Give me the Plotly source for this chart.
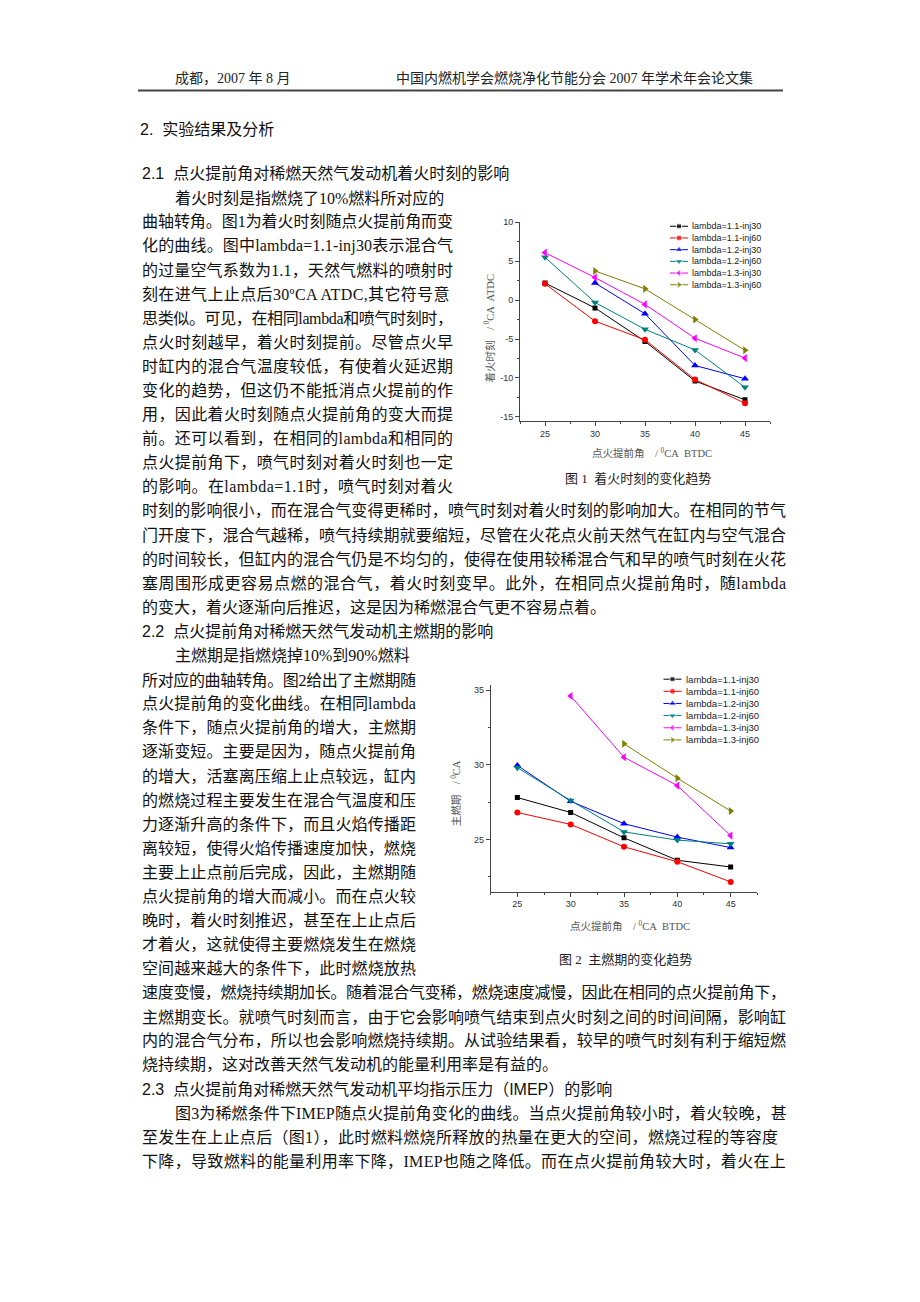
import plotly.graph_objects as go

# ---------------- data ----------------
ADVANCE = [25, 30, 35, 40, 45]
SERIES = ["lambda=1.1-inj30", "lambda=1.1-inj60", "lambda=1.2-inj30",
          "lambda=1.2-inj60", "lambda=1.3-inj30", "lambda=1.3-inj60"]

# Fig.1 ignition timing (deg CA ATDC)
ign_11_30 = [2.2, -1.0, -5.3, -10.4, -12.8]
ign_11_60 = [2.1, -2.7, -5.1, -10.2, -13.25]
ign_12_30 = [None, 2.2, -1.75, -8.4, -10.1]
ign_12_60 = [5.5, -0.3, -3.75, -6.4, -11.2]
ign_13_30 = [6.1, 2.9, -0.55, -4.9, -7.45]
ign_13_60 = [None, 3.75, 1.45, -2.5, -6.45]

# Fig.2 main combustion duration (deg CA)
dur_11_30 = [27.8, 26.8, 25.1, 23.6, 23.15]
dur_11_60 = [26.8, 26.0, 24.5, 23.5, 22.15]
dur_12_30 = [29.95, 27.55, 26.05, 25.15, 24.45]
dur_12_60 = [29.8, 27.6, 25.5, 24.95, 24.7]
dur_13_30 = [None, 34.6, 30.5, 28.6, 25.25]
dur_13_60 = [None, None, 31.4, 29.1, 26.9]

Y1_TICKS = [10, 5, 0, -5, -10, -15]
Y1_LABELS = ["10", "5", "0", "-5", "-10", "-15"]
Y2_TICKS = [35, 30, 25]
Y2_LABELS = ["35", "30", "25"]
X_TICKS = [25, 30, 35, 40, 45]
X_LABELS = ["25", "30", "35", "40", "45"]

HEADER_LEFT = "成都，2007 年 8 月"
HEADER_RIGHT = "中国内燃机学会燃烧净化节能分会 2007 年学术年会论文集"
SECTION = "2.\u00a0\u00a0实验结果及分析"
CAP1 = "图 1\u00a0 着火时刻的变化趋势"
CAP2 = "图 2\u00a0 主燃期的变化趋势"
XTITLE = "点火提前角\u00a0\u00a0\u00a0\u00a0/ <sup>0</sup>CA\u00a0 BTDC"
Y1TITLE = "着火时刻\u00a0\u00a0\u00a0\u00a0/ <sup>0</sup>CA\u00a0 ATDC"
Y2TITLE = "主燃期\u00a0\u00a0\u00a0\u00a0/ <sup>0</sup>CA"

# (text, kind) kind: H heading, I indented first line, L1/L2/F justified, E paragraph end
BODY = [
    ("2.1\u00a0\u00a0点火提前角对稀燃天然气发动机着火时刻的影响", "H"),
    ("着火时刻是指燃烧了10%燃料所对应的", "I"),
    ("曲轴转角。图1为着火时刻随点火提前角而变", "L1"),
    ("化的曲线。图中lambda=1.1-inj30表示混合气", "L1"),
    ("的过量空气系数为1.1，天然气燃料的喷射时", "L1"),
    ("刻在进气上止点后30ºCA ATDC,其它符号意", "L1"),
    ("思类似。可见，在相同lambda和喷气时刻时，", "L1"),
    ("点火时刻越早，着火时刻提前。尽管点火早", "L1"),
    ("时缸内的混合气温度较低，有使着火延迟期", "L1"),
    ("变化的趋势，但这仍不能抵消点火提前的作", "L1"),
    ("用，因此着火时刻随点火提前角的变大而提", "L1"),
    ("前。还可以看到，在相同的lambda和相同的", "L1"),
    ("点火提前角下，喷气时刻对着火时刻也一定", "L1"),
    ("的影响。在lambda=1.1时，喷气时刻对着火", "L1"),
    ("时刻的影响很小，而在混合气变得更稀时，喷气时刻对着火时刻的影响加大。在相同的节气", "F"),
    ("门开度下，混合气越稀，喷气持续期就要缩短，尽管在火花点火前天然气在缸内与空气混合", "F"),
    ("的时间较长，但缸内的混合气仍是不均匀的，使得在使用较稀混合气和早的喷气时刻在火花", "F"),
    ("塞周围形成更容易点燃的混合气，着火时刻变早。此外，在相同点火提前角时，随lambda", "F"),
    ("的变大，着火逐渐向后推迟，这是因为稀燃混合气更不容易点着。", "E"),
    ("2.2\u00a0\u00a0点火提前角对稀燃天然气发动机主燃期的影响", "H"),
    ("主燃期是指燃烧掉10%到90%燃料", "I"),
    ("所对应的曲轴转角。图2给出了主燃期随", "L2"),
    ("点火提前角的变化曲线。在相同lambda", "L2"),
    ("条件下，随点火提前角的增大，主燃期", "L2"),
    ("逐渐变短。主要是因为，随点火提前角", "L2"),
    ("的增大，活塞离压缩上止点较远，缸内", "L2"),
    ("的燃烧过程主要发生在混合气温度和压", "L2"),
    ("力逐渐升高的条件下，而且火焰传播距", "L2"),
    ("离较短，使得火焰传播速度加快，燃烧", "L2"),
    ("主要上止点前后完成，因此，主燃期随", "L2"),
    ("点火提前角的增大而减小。而在点火较", "L2"),
    ("晚时，着火时刻推迟，甚至在上止点后", "L2"),
    ("才着火，这就使得主要燃烧发生在燃烧", "L2"),
    ("空间越来越大的条件下，此时燃烧放热", "L2"),
    ("速度变慢，燃烧持续期加长。随着混合气变稀，燃烧速度减慢，因此在相同的点火提前角下，", "F"),
    ("主燃期变长。就喷气时刻而言，由于它会影响喷气结束到点火时刻之间的时间间隔，影响缸", "F"),
    ("内的混合气分布，所以也会影响燃烧持续期。从试验结果看，较早的喷气时刻有利于缩短燃", "F"),
    ("烧持续期，这对改善天然气发动机的能量利用率是有益的。", "E"),
    ("2.3\u00a0\u00a0点火提前角对稀燃天然气发动机平均指示压力（IMEP）的影响", "H"),
    ("图3为稀燃条件下IMEP随点火提前角变化的曲线。当点火提前角较小时，着火较晚，甚", "IF"),
    ("至发生在上止点后（图1），此时燃料燃烧所释放的热量在更大的空间，燃烧过程的等容度", "F"),
    ("下降，导致燃料的能量利用率下降，IMEP也随之降低。而在点火提前角较大时，着火在上", "F"),
]

# ---------------- styling helpers ----------------
W, H = 920, 1302
BODY_FONT = "Liberation Serif, Noto Sans CJK SC, serif"
HEAD_FONT = "Liberation Sans, Noto Sans CJK SC, sans-serif"
COLORS = ["#000000", "#ff0000", "#0000ff", "#008080", "#ff00ff", "#808000"]
SYMBOLS = ["square", "circle", "triangle-up", "triangle-down", "triangle-left", "triangle-right"]
MSIZE = [5, 6, 7, 7, 7, 7]

TIMES = {'a': .444, 'b': .5, 'c': .444, 'd': .5, 'e': .444, 'f': .333, 'g': .5, 'h': .5,
         'i': .278, 'j': .278, 'k': .5, 'l': .278, 'm': .778, 'n': .5, 'o': .5, 'p': .5,
         'q': .5, 'r': .333, 's': .389, 't': .278, 'u': .5, 'v': .5, 'w': .722, 'x': .5,
         'y': .5, 'z': .444, 'A': .722, 'B': .667, 'C': .667, 'D': .722, 'E': .611,
         'I': .333, 'M': .889, 'P': .556, 'T': .611, '=': .564, '-': .333, '.': .25,
         ',': .25, '%': .833, ' ': .25, 'º': .31, '\u00a0': .25}


def natural_width(s, size):
    w = 0.0
    for ch in s:
        if ord(ch) >= 0x2E80:
            w += 1.0
        elif ch.isdigit():
            w += 0.5
        else:
            w += TIMES.get(ch, 0.5)
    return w * size


def px(xp):
    return xp / W


def py(yp):
    return 1 - yp / H


fig = go.Figure()

# ---------------- main chart traces ----------------
ign = [ign_11_30, ign_11_60, ign_12_30, ign_12_60, ign_13_30, ign_13_60]
dur = [dur_11_30, dur_11_60, dur_12_30, dur_12_60, dur_13_30, dur_13_60]
for i, name in enumerate(SERIES):
    fig.add_trace(go.Scatter(x=ADVANCE, y=ign[i], name=name, mode="lines+markers",
                             line=dict(color=COLORS[i], width=1),
                             marker=dict(symbol=SYMBOLS[i], size=MSIZE[i], color=COLORS[i]),
                             xaxis="x", yaxis="y", showlegend=False))
for i, name in enumerate(SERIES):
    fig.add_trace(go.Scatter(x=ADVANCE, y=dur[i], name=name, mode="lines+markers",
                             line=dict(color=COLORS[i], width=1),
                             marker=dict(symbol=SYMBOLS[i], size=MSIZE[i], color=COLORS[i]),
                             xaxis="x2", yaxis="y2", showlegend=False))

# ---------------- legend samples (own small axes) ----------------
for i, name in enumerate(SERIES):
    for ax, ay in (("x3", "y3"), ("x4", "y4")):
        fig.add_trace(go.Scatter(x=[0, 0.5, 1], y=[i, i, i], mode="lines+markers",
                                 line=dict(color=COLORS[i], width=1),
                                 marker=dict(symbol=SYMBOLS[i], size=[0, MSIZE[i], 0],
                                             color=COLORS[i]),
                                 xaxis=ax, yaxis=ay, showlegend=False, hoverinfo="skip"))

annotations = []
for i, name in enumerate(SERIES):
    annotations.append(dict(x=1, y=i, xref="x3", yref="y3", text=name, showarrow=False,
                            xanchor="left", yanchor="middle", xshift=2,
                            font=dict(family="Liberation Sans, Arial", size=9, color="#222")))
    annotations.append(dict(x=1, y=i, xref="x4", yref="y4", text=name, showarrow=False,
                            xanchor="left", yanchor="middle", xshift=2,
                            font=dict(family="Liberation Sans, Arial", size=9.5, color="#222")))

axis_common = dict(showgrid=False, zeroline=False, showline=True, linecolor="#444",
                   linewidth=1, ticks="outside", ticklen=4, tickwidth=1, tickcolor="#444",
                   tickfont=dict(family="Liberation Sans, Arial", size=9, color="#333"))
minor_x = dict(ticklen=2, tickcolor="#444", dtick=2.5, tick0=25, ticks="outside")

legend_axis = dict(visible=False, showgrid=False, zeroline=False, fixedrange=True)

fig.update_layout(
    width=W, height=H, margin=dict(l=0, r=0, t=0, b=0),
    paper_bgcolor="white", plot_bgcolor="white", showlegend=False,
    xaxis=dict(**axis_common, domain=[px(520), px(770)], range=[22.5, 47.5], anchor="y",
               tickmode="array", tickvals=X_TICKS, ticktext=X_LABELS, minor=minor_x),
    yaxis=dict(**axis_common, domain=[py(417.7), py(218.3)], range=[-15.5, 10], anchor="x",
               tickmode="array", tickvals=Y1_TICKS, ticktext=Y1_LABELS,
               minor=dict(ticklen=2, tickcolor="#444", dtick=2.5, tick0=0, ticks="outside")),
    xaxis2=dict(**axis_common, domain=[px(490.7), px(757.3)], range=[22.5, 47.5], anchor="y2",
                tickmode="array", tickvals=X_TICKS, ticktext=X_LABELS, minor=minor_x),
    yaxis2=dict(**axis_common, domain=[py(890.7), py(683)], range=[21.5, 35.35], anchor="x2",
                tickmode="array", tickvals=Y2_TICKS, ticktext=Y2_LABELS,
                minor=dict(ticklen=2, tickcolor="#444", dtick=2.5, tick0=0, ticks="outside")),
    xaxis3=dict(**legend_axis, domain=[px(670), px(688)], range=[0, 1], anchor="y3"),
    yaxis3=dict(**legend_axis, domain=[py(286.9), py(216.4)], range=[5.5, -0.5], anchor="x3"),
    xaxis4=dict(**legend_axis, domain=[px(663.3), px(681.7)], range=[0, 1], anchor="y4"),
    yaxis4=dict(**legend_axis, domain=[py(744.4), py(671.2)], range=[5.5, -0.5], anchor="x4"),
)

# ---------------- chart titles / captions ----------------
tfont = dict(family=BODY_FONT, size=10.5, color="#555")
annotations += [
    dict(x=px(652), y=py(450), text=XTITLE, font=tfont),
    dict(x=px(489), y=py(325), text=Y1TITLE, font=tfont, textangle=-90),
    dict(x=px(630), y=py(925), text=XTITLE, font=tfont),
    dict(x=px(455), y=py(792), text=Y2TITLE, font=tfont, textangle=-90),
    dict(x=px(638), y=py(476), text=CAP1, font=dict(family=BODY_FONT, size=13, color="#222")),
    dict(x=px(625), y=py(959), text=CAP2, font=dict(family=BODY_FONT, size=13, color="#222")),
]
for a in annotations[-6:]:
    a.update(xref="paper", yref="paper", showarrow=False, xanchor="center", yanchor="middle")

# ---------------- page header ----------------
hfont = dict(family=BODY_FONT, size=14, color="#222")
annotations += [
    dict(x=px(173), y=py(73.5), text=HEADER_LEFT, font=hfont, xanchor="left"),
    dict(x=px(394), y=py(73.5), text=HEADER_RIGHT, font=hfont, xanchor="left"),
    dict(x=px(138), y=py(125), text=SECTION, xanchor="left",
         font=dict(family=HEAD_FONT, size=16, color="#111")),
]
for a in annotations[-3:]:
    a.update(xref="paper", yref="paper", showarrow=False, yanchor="middle")

# ---------------- body text ----------------
FS = 16
LINE0, STEP = 169.5, 24.2
RIGHT = {"L1": 451, "L2": 414, "F": 784, "IF": 784}
for i, (txt, kind) in enumerate(BODY):
    y = LINE0 + i * STEP
    x0 = 172.5 if kind in ("I", "IF") else 140
    fam = HEAD_FONT if kind == "H" else BODY_FONT
    shown = txt
    if kind in RIGHT:
        nat = natural_width(txt, FS)
        ls = (RIGHT[kind] - x0 - nat) / max(len(txt) - 1, 1)
        shown = '<span style="letter-spacing:%.2fpx">%s</span>' % (ls, txt)
    annotations.append(dict(x=px(x0), y=py(y), xref="paper", yref="paper", text=shown,
                            showarrow=False, xanchor="left", yanchor="middle",
                            font=dict(family=fam, size=FS, color="#111")))

fig.update_layout(annotations=annotations)

fig.add_shape(type="line", xref="paper", yref="paper", x0=px(138), x1=px(783),
              y0=py(86), y1=py(86), line=dict(color="#444", width=2))

fig.write_html("out.html", config={"displayModeBar": False},
               post_script="document.body.style.margin='0';"
                           "document.body.style.overflow='hidden';")
